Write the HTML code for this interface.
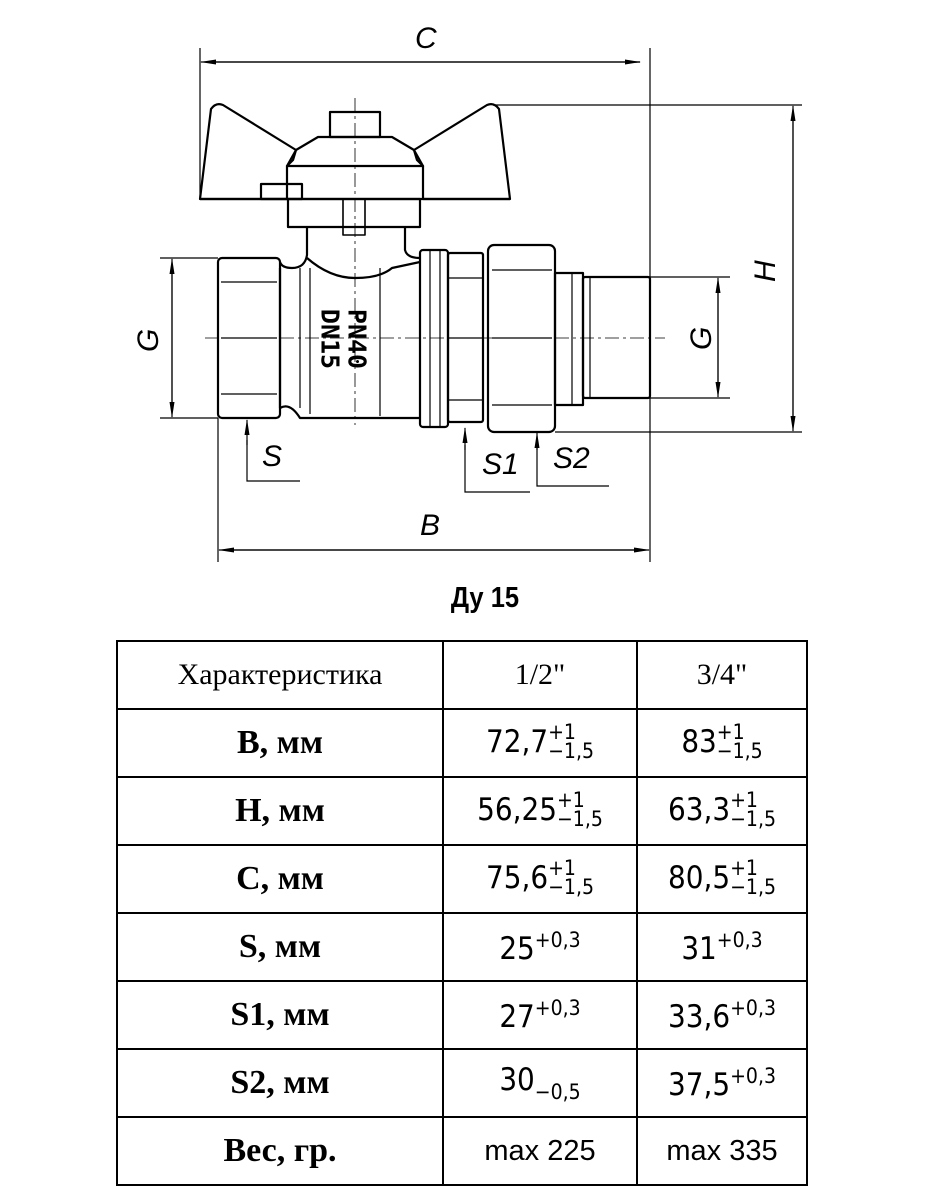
<!DOCTYPE html>
<html><head><meta charset="utf-8"><style>
body{margin:0;background:#fff;width:930px;height:1200px;position:relative;overflow:hidden}
svg{position:absolute;left:0;top:0}
.t{position:absolute;left:116px;top:640px;border-collapse:collapse}
.t td{border:2px solid #000;text-align:center;padding:0;height:66px}
.h{font-family:"Liberation Serif",serif;font-size:30px}
.l{font-family:"Liberation Serif",serif;font-size:34px;font-weight:bold}
.v{font-family:"DejaVu Sans Condensed","DejaVu Sans",sans-serif;font-size:31px}
.m{font-family:"Liberation Sans",sans-serif;font-size:29px}
.st{display:inline-block;vertical-align:middle;font-size:21px;line-height:19px;text-align:left;position:relative;top:-1px}
.sup{font-size:21px;vertical-align:12px}
.sub{font-size:21px;vertical-align:-9px}
.du{position:absolute;left:425px;top:582px;width:120px;text-align:center;font-family:"Liberation Sans",sans-serif;font-weight:bold;font-size:29px;transform:scaleX(0.88)}
</style></head><body>
<svg width="930" height="580" viewBox="0 0 930 580" fill="none" stroke="#000">
<defs><marker id="a" markerWidth="16" markerHeight="8" refX="15" refY="4" orient="auto" markerUnits="userSpaceOnUse"><path d="M0,1.5 L16,4 L0,6.5 Z" fill="#000" stroke="none"/></marker></defs>
<g stroke-width="1.2">
<line x1="200" y1="48" x2="200" y2="200"/><line x1="650" y1="48" x2="650" y2="277"/>
<line x1="210" y1="62" x2="640" y2="62" marker-end="url(#a)"/><line x1="640" y1="62" x2="201" y2="62" marker-end="url(#a)"/>
<line x1="493" y1="105" x2="802" y2="105"/><line x1="555" y1="432" x2="802" y2="432"/>
<line x1="793" y1="115" x2="793" y2="431" marker-end="url(#a)"/><line x1="793" y1="420" x2="793" y2="106" marker-end="url(#a)"/>
<line x1="160" y1="258" x2="218" y2="258"/><line x1="160" y1="418" x2="218" y2="418"/>
<line x1="172" y1="270" x2="172" y2="417" marker-end="url(#a)"/><line x1="172" y1="405" x2="172" y2="259" marker-end="url(#a)"/>
<line x1="650" y1="277" x2="730" y2="277"/><line x1="650" y1="398" x2="730" y2="398"/>
<line x1="718" y1="290" x2="718" y2="397" marker-end="url(#a)"/><line x1="718" y1="385" x2="718" y2="278" marker-end="url(#a)"/>
<line x1="218" y1="418" x2="218" y2="562"/><line x1="650" y1="398" x2="650" y2="562"/>
<line x1="230" y1="550" x2="649" y2="550" marker-end="url(#a)"/><line x1="640" y1="550" x2="219" y2="550" marker-end="url(#a)"/>
<polyline points="300,481 247,481 247,440"/><line x1="247" y1="445" x2="247" y2="420" marker-end="url(#a)"/>
<polyline points="530,492 465,492 465,445"/><line x1="465" y1="450" x2="465" y2="428" marker-end="url(#a)"/>
<polyline points="609,486 537,486 537,445"/><line x1="537" y1="450" x2="537" y2="433" marker-end="url(#a)"/>
<line x1="205" y1="338" x2="665" y2="338" stroke-dasharray="14,4,3,4" stroke-width="0.8"/>
<line x1="355" y1="98" x2="355" y2="425" stroke-dasharray="14,4,3,4" stroke-width="0.8"/>
</g>
<g stroke-width="2.2" stroke-linejoin="round">
<path d="M200,199 L211,109 Q216,102 223,105 L296,150 L293,160 L287,166 L287,199 Z"/>
<path d="M510,199 L499,109 Q494,102 487,105 L414,150 L417,160 L423,166 L423,199 Z"/>
<line x1="200" y1="199" x2="510" y2="199"/>
<path d="M287,166 L296,150 L318,137 L392,137 L414,150 L423,166 Z"/>
<rect x="330" y="112" width="50" height="25"/>
<rect x="261" y="184" width="41" height="15"/>
<rect x="288" y="199" width="132" height="28"/>
<rect x="343" y="199" width="22" height="36" stroke-width="1.6"/>
<path d="M307,227 L307,255 Q305,268 292,268 Q282,268 280,262 M405,227 L405,250 Q407,258 420,258"/>
<rect x="218" y="258" width="62" height="160" rx="4"/>
<line x1="221" y1="282" x2="277" y2="282" stroke-width="1.2"/><line x1="221" y1="338" x2="277" y2="338" stroke-width="1.2"/><line x1="221" y1="394" x2="277" y2="394" stroke-width="1.2"/>
<path d="M280,268 L280,408 Q290,402 300,418 L420,418" />
<path d="M307,258 Q330,278 355,278 Q380,278 392,268 L420,262"/>
<line x1="300" y1="268" x2="300" y2="408" stroke-width="1.2"/>
<line x1="310" y1="268" x2="310" y2="414" stroke-width="1.2"/>
<line x1="380" y1="268" x2="380" y2="416" stroke-width="1.2"/>
<rect x="420" y="250" width="28" height="177" rx="3"/>
<line x1="430" y1="250" x2="430" y2="427" stroke-width="1.2"/><line x1="440" y1="250" x2="440" y2="427" stroke-width="1.2"/>
<rect x="448" y="253" width="35" height="169" rx="2"/>
<line x1="448" y1="278" x2="483" y2="278" stroke-width="1.2"/><line x1="448" y1="338" x2="483" y2="338" stroke-width="1.2"/><line x1="448" y1="400" x2="483" y2="400" stroke-width="1.2"/>
<rect x="488" y="245" width="67" height="187" rx="6"/>
<line x1="492" y1="270" x2="552" y2="270" stroke-width="1.2"/><line x1="492" y1="338" x2="552" y2="338" stroke-width="1.2"/><line x1="492" y1="405" x2="552" y2="405" stroke-width="1.2"/>
<rect x="555" y="273" width="28" height="132"/>
<line x1="572" y1="273" x2="572" y2="405" stroke-width="1.2"/>
<rect x="583" y="277" width="67" height="121" rx="2"/>
<line x1="590" y1="277" x2="590" y2="398" stroke-width="1.2"/>
</g>
<g font-family="DejaVu Sans Mono,monospace" font-weight="bold" font-size="25" fill="#000" stroke="none" text-anchor="middle">
<text x="357" y="339" dominant-baseline="central" transform="rotate(90 357 339)">PN40</text>
<text x="330" y="339" dominant-baseline="central" transform="rotate(90 330 339)">DN15</text>
</g>
<g font-family="Liberation Sans,sans-serif" font-style="italic" font-size="30" fill="#000" stroke="none">
<text x="415" y="48">C</text>
<text x="420" y="535">B</text>
<text x="262" y="466">S</text>
<text x="482" y="474">S1</text>
<text x="553" y="468">S2</text>
<text x="0" y="0" transform="translate(775,282) rotate(-90)">H</text>
<text x="0" y="0" transform="translate(158,352) rotate(-90)">G</text>
<text x="0" y="0" transform="translate(711,350) rotate(-90)">G</text>
</g>
</svg>
<div class="du">Ду 15</div>
<table class="t">
<tr><td class="h" style="width:324px;height:63px">Характеристика</td><td class="h" style="width:192px">1/2"</td><td class="h" style="width:168px">3/4"</td></tr>
<tr><td class="l">B, мм</td><td class="v">72,7<span class="st">+1<br>−1,5</span></td><td class="v">83<span class="st">+1<br>−1,5</span></td></tr>
<tr><td class="l">H, мм</td><td class="v">56,25<span class="st">+1<br>−1,5</span></td><td class="v">63,3<span class="st">+1<br>−1,5</span></td></tr>
<tr><td class="l">C, мм</td><td class="v">75,6<span class="st">+1<br>−1,5</span></td><td class="v">80,5<span class="st">+1<br>−1,5</span></td></tr>
<tr><td class="l">S, мм</td><td class="v">25<span class="sup">+0,3</span></td><td class="v">31<span class="sup">+0,3</span></td></tr>
<tr><td class="l">S1, мм</td><td class="v">27<span class="sup">+0,3</span></td><td class="v">33,6<span class="sup">+0,3</span></td></tr>
<tr><td class="l">S2, мм</td><td class="v">30<span class="sub">−0,5</span></td><td class="v">37,5<span class="sup">+0,3</span></td></tr>
<tr><td class="l">Вес, гр.</td><td class="m">max 225</td><td class="m">max 335</td></tr>
</table>
</body></html>
